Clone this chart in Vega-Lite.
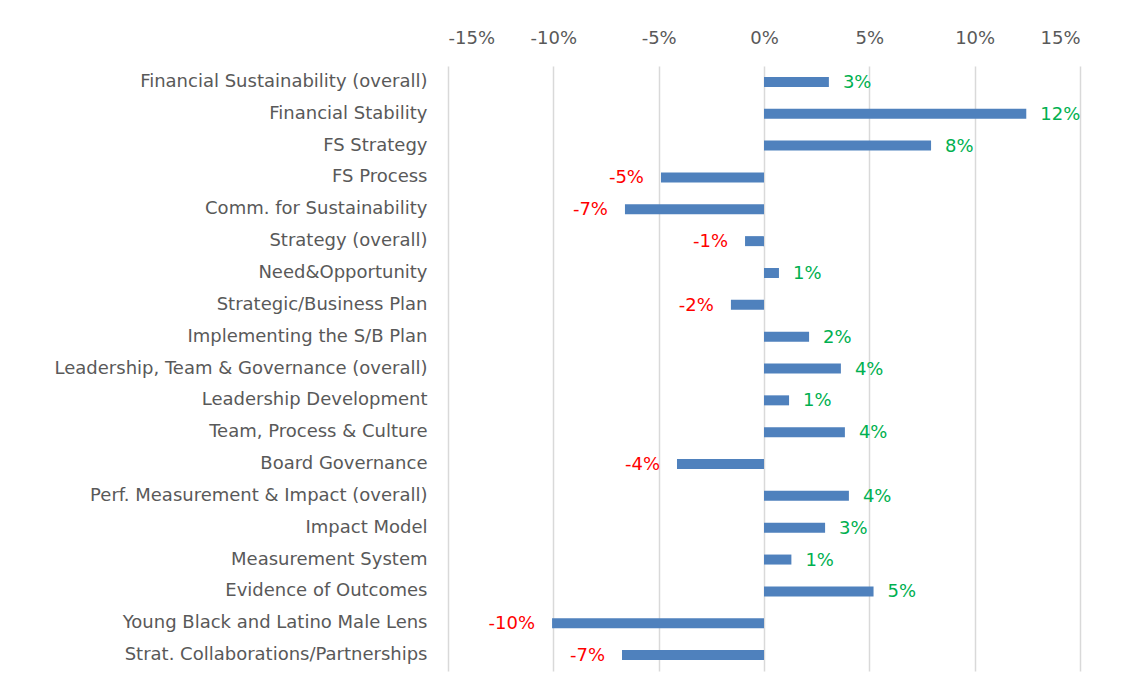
{
  "$schema": "https://vega.github.io/schema/vega-lite/v6.json",
  "width": 632,
  "height": 605,
  "autosize": {"type": "none"},
  "padding": {"left": 448, "top": 66, "right": 42, "bottom": 27},
  "background": "white",
  "config": {
    "view": {"stroke": null},
    "font": "DejaVu Sans",
    "locale": {
      "number": {
        "decimal": ".",
        "thousands": ",",
        "grouping": [3],
        "currency": ["$", ""],
        "minus": "-"
      }
    }
  },
  "data": {
    "values": [
      {"cat": "Financial Sustainability (overall)", "v": 0.0308},
      {"cat": "Financial Stability", "v": 0.1245},
      {"cat": "FS Strategy", "v": 0.0793},
      {"cat": "FS Process", "v": -0.0489},
      {"cat": "Comm. for Sustainability", "v": -0.066},
      {"cat": "Strategy (overall)", "v": -0.009},
      {"cat": "Need&Opportunity", "v": 0.0071},
      {"cat": "Strategic/Business Plan", "v": -0.0157},
      {"cat": "Implementing the S/B Plan", "v": 0.0214},
      {"cat": "Leadership, Team & Governance (overall)", "v": 0.0365},
      {"cat": "Leadership Development", "v": 0.0119},
      {"cat": "Team, Process & Culture", "v": 0.0384},
      {"cat": "Board Governance", "v": -0.0413},
      {"cat": "Perf. Measurement & Impact (overall)", "v": 0.0403},
      {"cat": "Impact Model", "v": 0.029},
      {"cat": "Measurement System", "v": 0.013},
      {"cat": "Evidence of Outcomes", "v": 0.052},
      {"cat": "Young Black and Latino Male Lens", "v": -0.1006},
      {"cat": "Strat. Collaborations/Partnerships", "v": -0.0674}
    ]
  },
  "encoding": {
    "y": {
      "field": "cat",
      "type": "nominal",
      "sort": null,
      "title": null,
      "axis": {
        "domain": false,
        "ticks": false,
        "tickSize": 0,
        "labelPadding": 21,
        "labelFontSize": 18,
        "labelColor": "#595959",
        "labelLimit": 500
      }
    },
    "x": {
      "field": "v",
      "type": "quantitative",
      "title": null,
      "scale": {"domain": [-0.15, 0.15], "nice": false, "zero": false},
      "axis": {
        "orient": "top",
        "format": ".0%",
        "values": [-0.15, -0.1, -0.05, 0, 0.05, 0.1, 0.15],
        "domain": false,
        "ticks": false,
        "tickSize": 0,
        "labelPadding": 19,
        "labelFontSize": 18,
        "labelColor": "#595959",
        "grid": true,
        "gridColor": "#d9d9d9",
        "gridWidth": 1.5
      }
    }
  },
  "layer": [
    {
      "mark": {"type": "bar", "size": 10, "color": "#4F81BD"}
    },
    {
      "transform": [{"filter": "datum.v > 0"}],
      "mark": {"type": "text", "align": "left", "baseline": "middle", "dx": 14, "dy": 1, "fontSize": 18, "color": "#00B050"},
      "encoding": {"text": {"field": "v", "type": "quantitative", "format": ".0%"}}
    },
    {
      "transform": [{"filter": "datum.v < 0"}],
      "mark": {"type": "text", "align": "right", "baseline": "middle", "dx": -17, "dy": 1, "fontSize": 18, "color": "#FF0000"},
      "encoding": {"text": {"field": "v", "type": "quantitative", "format": ".0%"}}
    }
  ]
}
